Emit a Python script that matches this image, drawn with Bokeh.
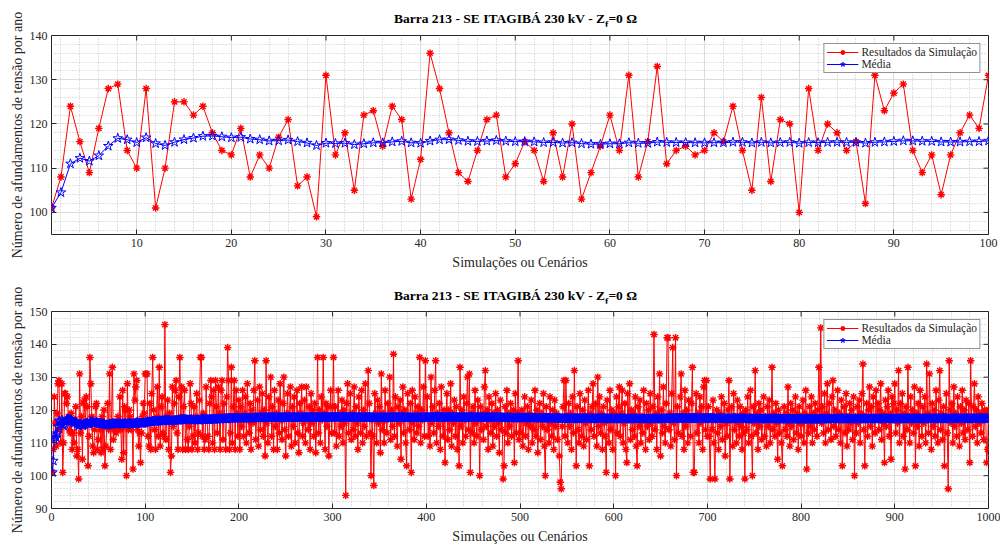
import numpy as np
from bokeh.plotting import figure
from bokeh.layouts import column, row
from bokeh.models import Range1d, FixedTicker, Legend, LegendItem, Div
from bokeh.embed import file_html
from bokeh.resources import INLINE

# ---------------- texts ----------------
titulo = "Barra 213 - SE ITAGIBÁ 230 kV - Z"
titulo_sub = "f"
titulo_fim = "=0 Ω"
rotulo_x = "Simulações ou Cenários"
rotulo_y = "Número de afundamentos de tensão por ano"
legenda_sim = "Resultados da Simulação"
legenda_media = "Média"

# ---------------- data ----------------
sim_001_100 = [101, 108, 124, 116, 109, 119, 128, 129, 114, 110,
               128, 101, 110, 125, 125, 122, 124, 118, 114, 113,
               119, 108, 113, 110, 117, 121, 106, 108, 99, 131,
               113, 118, 105, 122, 123, 115, 124, 121, 103, 112,
               136, 128, 118, 109, 107, 114, 121, 122, 108, 111,
               116, 114, 107, 118, 108, 120, 103, 109, 115, 122,
               114, 131, 108, 116, 133, 111, 114, 115, 113, 114,
               118, 116, 124, 114, 105, 126, 107, 121, 120, 100,
               128, 114, 120, 118, 114, 116, 102, 131, 123, 127,
               129, 114, 109, 113, 104, 113, 118, 122, 119, 131]
sim_101_200 = [131, 131, 112, 109, 122, 108, 125, 136, 120, 114,
               108, 118, 127, 112, 133, 109, 121, 124, 113, 112,
               146, 111, 118, 123, 108, 119, 101, 106, 127, 115,
               122, 126, 129, 113, 108, 124, 136, 118, 127, 108,
               121, 126, 108, 117, 111, 108, 115, 128, 122, 108,
               112, 121, 110, 118, 125, 108, 113, 123, 136, 136,
               112, 119, 108, 111, 127, 117, 112, 108, 122, 129,
               124, 110, 126, 108, 129, 121, 113, 127, 119, 108,
               126, 129, 111, 122, 118, 108, 124, 139, 129, 108,
               113, 133, 110, 121, 129, 108, 126, 119, 112, 123]
sim_201_300 = [108, 121, 115, 126, 112, 119, 124, 110, 128, 117,
               113, 122, 108, 120, 116, 126, 135, 111, 118, 123,
               109, 127, 114, 119, 125, 112, 120, 106, 135, 116,
               110, 124, 118, 130, 112, 121, 108, 126, 115, 119,
               108, 123, 113, 128, 117, 111, 122, 130, 114, 106,
               119, 125, 112, 118, 127, 109, 121, 115, 124, 110,
               118, 126, 113, 107, 122, 119, 127, 112, 116, 123,
               110, 127, 118, 114, 121, 108, 125, 116, 120, 112,
               122, 107, 118, 136, 113, 120, 110, 124, 117, 136,
               119, 108, 122, 115, 121, 106, 118, 126, 113, 121]
sim_301_400 = [136, 113, 121, 109, 118, 126, 112, 119, 115, 123,
               110, 120, 116, 94, 122, 128, 113, 118, 125, 111,
               119, 114, 127, 112, 121, 116, 108, 124, 118, 113,
               126, 110, 120, 115, 128, 112, 118, 132, 122, 113,
               100, 117, 112, 97, 125, 119, 110, 123, 116, 121,
               107, 131, 114, 119, 110, 126, 117, 113, 122, 118,
               130, 111, 120, 115, 137, 112, 124, 118, 109, 121,
               116, 123, 105, 119, 127, 113, 120, 110, 103, 125,
               118, 114, 122, 101, 126, 116, 111, 124, 119, 113,
               121, 115, 136, 110, 120, 117, 127, 112, 135, 118]
sim_401_500 = [124, 112, 118, 109, 130, 116, 121, 113, 126, 135,
               110, 119, 115, 122, 108, 127, 117, 112, 120, 104,
               118, 125, 111, 120, 114, 128, 109, 119, 116, 123,
               112, 121, 108, 118, 103, 133, 115, 120, 110, 124,
               117, 112, 122, 130, 114, 131, 101, 119, 113, 121,
               110, 126, 116, 112, 123, 118, 100, 121, 114, 119,
               111, 127, 132, 115, 120, 108, 124, 117, 113, 122,
               109, 119, 115, 125, 112, 120, 116, 107, 123, 114,
               118, 99, 103, 121, 113, 126, 110, 119, 115, 122,
               112, 118, 120, 104, 125, 113, 119, 135, 111, 117]
sim_501_600 = [113, 120, 109, 118, 124, 112, 116, 121, 108, 119,
               115, 123, 110, 118, 114, 126, 112, 120, 107, 117,
               122, 111, 119, 115, 125, 109, 100, 121, 114, 118,
               110, 124, 116, 112, 120, 108, 123, 115, 119, 111,
               117, 106, 98, 96, 115, 121, 129, 112, 129, 118,
               110, 122, 115, 119, 108, 124, 113, 132, 117, 103,
               121, 114, 110, 125, 118, 112, 120, 109, 123, 116,
               111, 118, 126, 103, 119, 114, 121, 128, 112, 117,
               122, 109, 130, 115, 124, 113, 119, 108, 121, 116,
               112, 101, 123, 117, 110, 126, 114, 120, 108, 119]
sim_601_700 = [118, 100, 124, 113, 121, 127, 112, 119, 126, 110,
               116, 122, 108, 104, 125, 117, 128, 111, 120, 114,
               119, 112, 124, 109, 103, 121, 115, 123, 110, 118,
               113, 126, 117, 108, 122, 115, 120, 111, 125, 116,
               112, 121, 143, 114, 119, 108, 124, 117, 131, 106,
               120, 113, 127, 115, 110, 122, 142, 142, 114, 119,
               109, 125, 139, 116, 111, 142, 100, 121, 113, 118,
               124, 131, 112, 119, 108, 126, 115, 120, 110, 123,
               117, 112, 122, 133, 101, 101, 118, 125, 113, 119,
               110, 124, 116, 121, 108, 127, 129, 114, 129, 112]
sim_701_800 = [121, 112, 99, 118, 114, 123, 110, 99, 117, 120,
               113, 108, 119, 115, 124, 111, 118, 122, 106, 116,
               112, 120, 129, 99, 117, 121, 109, 125, 114, 118,
               110, 123, 116, 112, 121, 115, 108, 119, 113, 99,
               120, 114, 124, 110, 118, 126, 112, 100, 121, 116,
               132, 113, 119, 108, 122, 115, 120, 111, 117, 124,
               112, 118, 109, 121, 115, 123, 110, 117, 133, 114,
               119, 112, 122, 116, 105, 120, 113, 118, 110, 103,
               117, 121, 114, 119, 112, 127, 116, 109, 122, 115,
               120, 111, 118, 124, 113, 119, 108, 121, 116, 112]
sim_801_900 = [116, 123, 110, 119, 126, 102, 118, 113, 121, 115,
               124, 110, 119, 114, 122, 117, 112, 120, 133, 118,
               145, 116, 121, 113, 125, 110, 119, 128, 114, 122,
               117, 111, 124, 129, 115, 120, 112, 118, 126, 114,
               119, 110, 123, 103, 117, 121, 113, 125, 109, 118,
               114, 122, 116, 120, 111, 124, 100, 118, 113, 121,
               116, 123, 110, 119, 125, 134, 114, 103, 118, 122,
               112, 120, 127, 115, 121, 109, 124, 117, 113, 126,
               118, 122, 114, 120, 128, 111, 119, 116, 104, 123,
               115, 121, 126, 112, 119, 105, 124, 117, 122, 128]
sim_901_1000 = [113, 120, 116, 132, 110, 122, 117, 125, 112, 119,
                102, 121, 114, 133, 118, 110, 124, 116, 120, 113,
                127, 103, 119, 115, 122, 109, 126, 117, 112, 121,
                116, 124, 110, 134, 119, 113, 131, 118, 108, 122,
                115, 120, 112, 126, 117, 110, 123, 132, 114, 119,
                111, 121, 103, 118, 125, 113, 96, 135, 120, 116,
                122, 110, 127, 115, 119, 112, 124, 117, 109, 121,
                116, 126, 113, 120, 111, 123, 118, 114, 122, 104,
                135, 117, 112, 121, 128, 115, 120, 110, 124, 116,
                119, 113, 122, 117, 111, 120, 119, 104, 108, 120]

resultados = (sim_001_100 + sim_101_200 + sim_201_300 + sim_301_400 + sim_401_500
              + sim_501_600 + sim_601_700 + sim_701_800 + sim_801_900 + sim_901_1000)

# ---------------- style / layout ----------------
FONT = "Liberation Serif"
TXT = "#262626"
RED = "#ff0000"
BLUE = "#0000ff"
LAB_W = 26                 # strip on the left holding the rotated y labels
FIG_W = 974
LEFT, RIGHT = 25, 12

T1_H, T1_PAD = 26, 12
P1_TOP, P1_FRAME, P1_BOT = 9, 199, 39
T2_H, T2_PAD = 30, 16
P2_TOP, P2_FRAME, P2_BOT = 8, 197, 39
TOTAL_H = T1_H + P1_TOP + P1_FRAME + P1_BOT + T2_H + P2_TOP + P2_FRAME + P2_BOT


def make_title(pad_top, height):
    html = (f'<div style="margin-left:{394 - LAB_W}px;padding-top:{pad_top}px;line-height:14px;'
            f'font-family:\'{FONT}\';font-weight:bold;font-size:13.5px;color:#000;white-space:nowrap;">'
            f'{titulo}<span style="font-size:10px;line-height:0;position:relative;top:5px;">'
            f'{titulo_sub}</span>{titulo_fim}</div>')
    return Div(text=html, width=FIG_W, height=height, margin=(0, 0, 0, 0))


def make_ylabels():
    c1 = T1_H + P1_TOP + P1_FRAME / 2
    c2 = T1_H + P1_TOP + P1_FRAME + P1_BOT + T2_H + P2_TOP + P2_FRAME / 2
    style = (f"position:absolute;left:18px;width:250px;line-height:16px;"
             f"transform:translate(-50%,-50%) rotate(-90deg);text-align:center;white-space:nowrap;"
             f"font-family:'{FONT}';font-size:14px;color:{TXT};")
    html = (f'<div style="position:relative;width:{LAB_W}px;height:{TOTAL_H}px;">'
            f'<div style="{style}top:{c1}px;">{rotulo_y}</div>'
            f'<div style="{style}top:{c2}px;">{rotulo_y}</div></div>')
    return Div(text=html, width=LAB_W, height=TOTAL_H, margin=(0, 0, 0, 0))


def make_fig(n, xr, yr, xticks, xminor, yticks, yminor, top, frame_h, bottom):
    x = np.arange(1, n + 1)
    y = np.array(resultados[:n], dtype=float)
    media = np.cumsum(y) / x

    p = figure(width=FIG_W, height=top + frame_h + bottom, output_backend="svg",
               toolbar_location=None, x_range=Range1d(*xr), y_range=Range1d(*yr),
               min_border_left=LEFT, min_border_right=RIGHT,
               min_border_top=top, min_border_bottom=bottom)
    p.background_fill_color = "white"
    p.border_fill_color = "white"
    p.outline_line_color = TXT
    p.outline_line_width = 1

    xt = FixedTicker(ticks=xticks, minor_ticks=xminor)
    yt = FixedTicker(ticks=yticks, minor_ticks=yminor)

    for ax, t in ((p.xaxis[0], xt), (p.yaxis[0], yt)):
        ax.ticker = t
        ax.major_label_text_font = FONT
        ax.major_label_text_font_size = "12px"
        ax.major_label_text_color = TXT
        ax.axis_label_text_font = FONT
        ax.axis_label_text_font_size = "14px"
        ax.axis_label_text_font_style = "normal"
        ax.axis_label_text_color = TXT
        ax.major_tick_in = 5
        ax.major_tick_out = 0
        ax.minor_tick_in = 0
        ax.minor_tick_out = 0
        ax.major_tick_line_color = TXT
        ax.axis_line_color = None
        ax.major_label_standoff = 4
    p.xaxis[0].axis_label = rotulo_x
    p.xaxis[0].axis_label_standoff = 5

    for g, t in ((p.xgrid[0], xt), (p.ygrid[0], yt)):
        g.ticker = t
        g.grid_line_color = "#dcdcdc"
        g.grid_line_width = 1
        g.minor_grid_line_color = "#c4c4c4"
        g.minor_grid_line_dash = "1 2"
        g.minor_grid_line_width = 1

    # inward ticks on the top and right edges of the box (mirror of the axis ticks)
    ux = (xr[1] - xr[0]) / (FIG_W - LEFT - RIGHT)
    uy = (yr[1] - yr[0]) / frame_h
    p.segment(x0=xticks, y0=[yr[1]] * len(xticks), x1=xticks, y1=[yr[1] - 5 * uy] * len(xticks),
              line_color=TXT, line_width=1)
    p.segment(x0=[xr[1]] * len(yticks), y0=yticks, x1=[xr[1] - 5 * ux] * len(yticks), y1=yticks,
              line_color=TXT, line_width=1)

    r_line = p.line(x, y, line_color=RED, line_width=1)
    r_pts = p.scatter(x, y, marker="asterisk", size=7.5, line_color=RED, line_width=1.4)
    m_line = p.line(x, media, line_color=BLUE, line_width=1)
    m_pts = p.scatter(x, media, marker="star", size=10, line_color=BLUE, fill_color=None, line_width=1)

    legend = Legend(items=[LegendItem(label=legenda_sim, renderers=[r_line, r_pts]),
                           LegendItem(label=legenda_media, renderers=[m_line, m_pts])],
                    location="top_right", margin=8, padding=2, spacing=0,
                    glyph_width=32, glyph_height=12, label_height=12, label_standoff=3,
                    label_text_font=FONT, label_text_font_size="11.5px", label_text_color=TXT,
                    border_line_color=TXT, border_line_width=1, background_fill_alpha=1)
    p.add_layout(legend)
    return p


t1 = make_title(T1_PAD, T1_H)
p1 = make_fig(100, (1, 100), (95, 140),
              list(range(10, 101, 10)), [v for v in range(2, 101, 2) if v % 10],
              list(range(100, 141, 10)), [v for v in range(96, 141, 2) if v % 10],
              top=P1_TOP, frame_h=P1_FRAME, bottom=P1_BOT)
t2 = make_title(T2_PAD, T2_H)
p2 = make_fig(1000, (0, 1000), (90, 150),
              list(range(0, 1001, 100)), [v for v in range(0, 1001, 20) if v % 100],
              list(range(90, 151, 10)), [v for v in range(90, 151, 2) if v % 10],
              top=P2_TOP, frame_h=P2_FRAME, bottom=P2_BOT)

layout = row(make_ylabels(), column(t1, p1, t2, p2, spacing=0), spacing=0)
open("out.html", "w").write(file_html(layout, INLINE))
